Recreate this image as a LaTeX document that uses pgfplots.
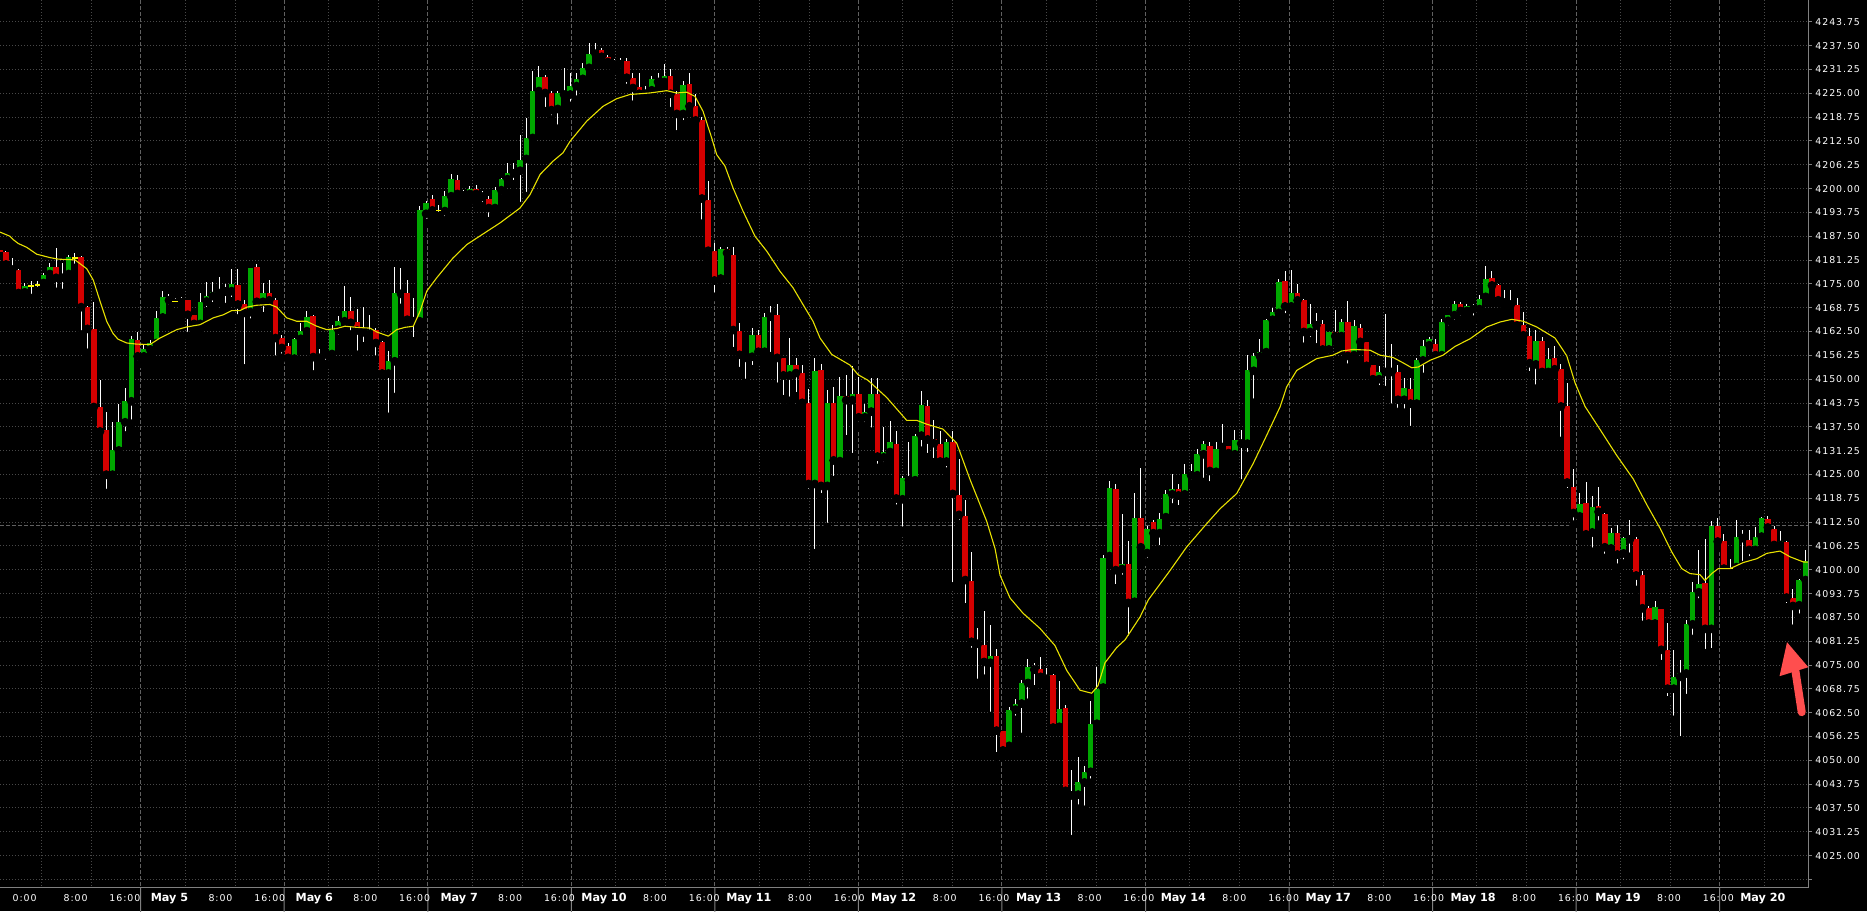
\documentclass[border=0pt]{standalone}
\usepackage{pgfplots}
\pgfplotsset{compat=1.18}
\usepackage{pgfplotstable}
\usepackage{fontspec}
\setmainfont{DejaVu Sans}
\newfontfamily\lblfont{DejaVu Sans}[LetterSpace=10]
\definecolor{cgreen}{RGB}{0,168,0}
\definecolor{cred}{RGB}{212,0,0}
\definecolor{cma}{RGB}{232,226,0}
\definecolor{cdoji}{RGB}{250,245,0}
\definecolor{gminor}{RGB}{72,72,72}
\definecolor{gmajor}{RGB}{96,96,96}
\definecolor{axgray}{RGB}{128,128,128}
\definecolor{arrowred}{RGB}{255,78,78}

\pgfplotstableread{
i O H L C
4 4172.8 4175.25 4170.9 4174.55
7 4175.25 4177.9 4174.4 4177.3
8 4177.6 4180.5 4175.7 4179.4
10 4176.6 4180.5 4172.6 4177.4
11 4177.6 4182.7 4175.5 4182.0
18 4124.95 4138.7 4123.0 4131.3
19 4131.3 4143.6 4129.3 4138.7
20 4138.7 4147.7 4135.2 4144.2
21 4144.2 4161.3 4138.3 4160.6
23 4156.0 4159.0 4154.5 4158.0
24 4157.8 4160.4 4156.0 4159.5
25 4159.5 4167.8 4158.2 4166.1
26 4166.2 4173.1 4164.8 4171.5
29 4170.2 4171.5 4169.2 4170.7
32 4164.5 4172.6 4163.0 4170.3
33 4170.4 4175.4 4167.8 4171.8
34 4171.8 4175.5 4169.1 4172.9
35 4172.6 4176.7 4171.5 4173.2
36 4173.0 4175.0 4168.9 4173.4
37 4173.1 4178.8 4170.4 4175.0
40 4167.6 4179.2 4164.8 4179.2
42 4170.3 4175.25 4166.5 4172.6
47 4155.4 4160.8 4155.1 4160.6
48 4160.6 4164.8 4159.1 4162.6
49 4162.6 4167.8 4161.3 4166.2
51 4155.6 4157.8 4153.8 4156.6
52 4156.5 4157.3 4154.0 4156.8
53 4156.6 4164.1 4155.4 4163.0
54 4163.0 4166.5 4160.6 4165.2
55 4165.2 4174.4 4163.0 4167.8
59 4161.9 4166.8 4159.9 4162.8
62 4151.5 4157.3 4140.1 4154.7
63 4154.7 4179.4 4145.3 4172.6
64 4172.4 4179.2 4168.7 4172.8
67 4165.2 4195.4 4163.4 4194.3
68 4193.4 4196.7 4191.0 4196.1
71 4194.1 4199.3 4191.7 4198.0
72 4198.0 4203.9 4197.1 4202.5
75 4198.6 4200.6 4196.7 4199.9
79 4194.9 4200.4 4193.8 4199.6
80 4199.6 4202.8 4197.4 4202.5
81 4202.5 4206.7 4201.5 4204.0
82 4204.0 4206.7 4201.1 4204.7
83 4204.7 4214.0 4195.4 4207.4
84 4207.8 4218.6 4198.0 4213.3
85 4213.3 4230.8 4212.3 4225.6
86 4225.6 4232.1 4224.0 4229.2
89 4220.9 4225.6 4215.7 4225.1
91 4224.7 4230.4 4221.7 4226.9
92 4226.9 4230.4 4223.3 4228.8
93 4228.8 4233.0 4228.0 4231.7
94 4231.7 4238.1 4230.8 4235.4
95 4235.4 4238.1 4235.0 4236.3
99 4232.6 4234.3 4230.4 4233.4
103 4224.9 4226.9 4223.2 4225.6
104 4225.8 4229.5 4224.9 4228.8
106 4228.0 4232.8 4226.9 4229.5
109 4219.6 4228.3 4216.9 4227.1
115 4176.4 4184.8 4176.1 4184.2
120 4155.9 4163.4 4152.6 4161.5
122 4157.2 4167.4 4156.5 4166.3
123 4166.4 4169.3 4156.0 4166.8
126 4151.0 4160.9 4144.3 4153.8
130 4122.5 4155.6 4104.3 4152.2
132 4122.0 4147.2 4111.2 4143.7
134 4128.5 4150.5 4126.9 4145.7
136 4144.5 4153.5 4129.5 4146.2
138 4140.0 4143.5 4137.7 4141.5
139 4141.5 4150.2 4136.2 4146.2
141 4129.5 4137.5 4127.2 4130.9
142 4130.9 4138.9 4130.2 4133.4
144 4118.5 4124.7 4110.2 4124.2
146 4123.5 4135.7 4122.0 4135.2
147 4135.2 4146.9 4131.2 4143.2
151 4128.4 4134.2 4125.7 4133.5
158 4075.6 4085.6 4061.6 4077.3
161 4053.8 4064.1 4053.1 4063.1
162 4063.3 4066.1 4060.6 4064.8
163 4064.9 4071.1 4056.1 4070.3
164 4070.3 4076.6 4065.1 4074.4
167 4071.4 4074.1 4069.6 4072.4
169 4058.8 4070.8 4058.4 4063.4
172 4041.0 4051.0 4037.3 4044.3
173 4044.2 4048.6 4037.0 4046.9
174 4047.0 4065.6 4044.1 4059.6
175 4059.6 4074.6 4058.4 4068.8
176 4069.1 4103.8 4068.1 4103.1
177 4103.6 4123.2 4103.1 4121.5
179 4100.2 4114.7 4097.6 4101.6
181 4091.6 4120.2 4090.6 4113.7
183 4104.4 4111.6 4102.0 4110.8
185 4109.6 4114.9 4105.3 4113.4
186 4113.8 4120.8 4111.65 4119.95
187 4119.8 4125.2 4116.3 4121.3
189 4119.8 4127.8 4119.1 4125.2
191 4124.8 4131.6 4123.9 4130.3
192 4130.3 4133.8 4123.0 4132.9
194 4125.7 4133.5 4123.9 4131.8
195 4132.2 4138.2 4130.5 4132.8
197 4130.3 4136.8 4129.1 4134.1
199 4133.1 4156.3 4129.8 4152.3
200 4152.2 4156.9 4143.8 4156.0
201 4156.0 4160.6 4156.0 4157.05
202 4157.1 4165.9 4156.0 4165.5
203 4165.6 4168.8 4163.7 4167.6
204 4167.4 4176.4 4165.9 4175.5
206 4169.1 4178.7 4168.1 4172.6
209 4162.4 4169.8 4159.9 4164.4
212 4157.8 4162.4 4155.6 4162.4
214 4161.3 4165.9 4159.5 4164.9
216 4156.3 4165.5 4155.6 4163.9
220 4150.0 4153.4 4147.3 4151.8
221 4151.9 4167.2 4147.1 4152.3
224 4144.6 4150.3 4141.2 4147.8
226 4143.6 4155.6 4141.4 4154.95
227 4154.95 4160.4 4150.6 4158.6
228 4158.9 4161.0 4158.8 4160.6
230 4156.3 4165.9 4155.6 4165.0
231 4165.3 4166.8 4163.0 4166.8
232 4166.8 4170.5 4164.4 4169.8
234 4167.9 4169.8 4167.6 4169.1
236 4168.4 4172.0 4166.5 4171.1
237 4171.6 4179.6 4170.7 4176.4
245 4153.9 4162.8 4147.5 4160.1
247 4151.9 4158.1 4150.2 4155.3
252 4114.0 4120.2 4112.2 4117.3
254 4109.8 4119.3 4104.7 4116.4
257 4105.6 4110.9 4103.6 4109.7
259 4104.3 4108.7 4101.6 4108.4
264 4085.9 4091.85 4083.9 4090.1
267 4068.8 4079.0 4060.6 4071.9
268 4071.9 4076.3 4055.2 4073.0
269 4072.8 4086.7 4066.3 4085.8
270 4085.7 4096.7 4081.8 4094.2
271 4094.1 4105.2 4091.4 4096.3
273 4084.5 4112.9 4078.3 4111.5
277 4100.7 4113.1 4100.2 4108.7
280 4105.2 4111.1 4103.4 4108.7
281 4108.7 4113.8 4107.5 4113.6
284 4106.5 4110.2 4105.8 4107.6
287 4090.7 4097.6 4087.4 4097.2
288 4097.3 4105.2 4096.3 4102.3
}\upc

\pgfplotstableread{
i O H L C
0 4184.0 4184.3 4182.8 4183.3
1 4183.3 4183.6 4178.3 4180.1
2 4179.6 4181.8 4176.6 4178.75
3 4178.6 4178.8 4172.0 4172.6
9 4179.4 4184.4 4172.9 4176.6
13 4182.0 4182.4 4161.7 4168.9
14 4168.9 4169.1 4156.9 4163.2
15 4163.2 4170.3 4141.1 4142.7
16 4142.7 4149.9 4135.0 4136.3
17 4136.6 4141.4 4120.1 4124.95
22 4160.4 4162.3 4153.8 4156.0
27 4171.5 4172.4 4168.5 4170.7
30 4170.7 4170.9 4161.3 4166.9
31 4166.8 4166.9 4162.6 4164.5
38 4174.6 4178.8 4165.9 4169.6
39 4169.6 4170.7 4152.8 4167.4
41 4179.4 4180.1 4169.1 4170.3
43 4172.6 4175.9 4169.1 4170.7
44 4170.7 4171.3 4155.1 4160.8
45 4160.8 4161.7 4155.6 4158.2
46 4158.6 4159.5 4155.1 4155.6
50 4166.5 4166.9 4151.2 4155.8
56 4167.8 4171.5 4161.7 4164.8
57 4164.9 4168.5 4156.4 4162.8
58 4162.8 4168.9 4158.6 4162.3
60 4163.0 4163.4 4155.1 4159.5
61 4159.7 4159.9 4151.2 4151.5
65 4172.6 4176.1 4165.2 4165.6
66 4165.6 4171.3 4159.9 4165.2
69 4197.4 4198.3 4193.2 4194.3
73 4202.2 4203.7 4196.5 4198.6
74 4198.6 4199.6 4196.9 4198.2
76 4199.9 4200.9 4197.6 4198.6
77 4198.6 4199.3 4195.4 4197.9
78 4197.4 4198.0 4191.4 4194.9
87 4229.2 4229.9 4220.3 4225.1
88 4225.1 4225.6 4218.1 4220.6
90 4225.3 4231.7 4223.4 4224.7
96 4236.3 4236.9 4233.6 4234.6
97 4234.6 4235.0 4232.3 4233.2
98 4233.2 4233.9 4231.2 4232.6
100 4233.6 4234.3 4226.4 4229.1
101 4229.1 4230.4 4222.0 4226.4
102 4226.6 4230.4 4223.6 4224.9
105 4228.4 4230.4 4227.1 4228.0
107 4229.5 4231.3 4220.3 4224.9
108 4224.9 4225.6 4214.2 4219.6
110 4227.5 4230.4 4220.7 4221.6
111 4221.6 4224.7 4217.2 4217.9
112 4217.9 4218.9 4190.8 4197.4
113 4196.9 4201.9 4181.5 4183.7
114 4183.7 4185.7 4171.6 4175.9
116 4184.2 4184.8 4181.8 4183.1
117 4182.7 4184.8 4157.3 4162.9
118 4162.6 4164.8 4152.1 4156.4
119 4155.9 4156.4 4149.0 4155.6
121 4161.7 4163.0 4154.9 4157.2
124 4166.8 4169.6 4148.0 4155.6
125 4155.6 4155.6 4144.7 4151.0
127 4153.8 4155.6 4145.5 4151.6
128 4151.6 4153.8 4143.3 4143.8
129 4143.8 4147.5 4120.0 4122.5
131 4152.5 4154.0 4119.0 4122.0
133 4143.7 4147.9 4123.5 4128.7
135 4145.7 4151.1 4134.2 4144.5
137 4146.2 4150.5 4137.7 4140.0
140 4146.2 4150.2 4126.7 4129.7
143 4133.0 4136.5 4116.0 4118.7
145 4124.2 4133.5 4122.7 4123.5
148 4143.0 4144.5 4129.5 4134.2
149 4134.4 4139.2 4128.2 4133.2
150 4133.0 4136.5 4126.7 4128.4
152 4133.4 4136.4 4095.6 4119.9
153 4119.7 4129.0 4112.0 4114.4
154 4114.2 4118.2 4090.1 4097.3
155 4097.1 4104.6 4078.4 4081.1
156 4081.1 4084.8 4070.3 4080.6
157 4080.3 4089.1 4071.4 4075.8
159 4077.3 4079.1 4051.0 4057.8
160 4057.6 4057.6 4051.0 4052.6
165 4074.3 4075.6 4068.6 4073.8
166 4073.9 4077.1 4070.1 4071.9
168 4072.4 4072.6 4057.6 4058.6
170 4063.6 4064.4 4040.7 4042.0
171 4041.8 4047.5 4029.3 4040.8
178 4121.2 4122.5 4095.1 4099.9
180 4101.6 4107.6 4081.6 4091.3
182 4113.7 4126.7 4105.2 4105.9
184 4112.4 4112.95 4107.7 4109.6
188 4121.3 4122.6 4115.8 4119.5
190 4125.5 4127.8 4122.6 4124.8
193 4132.6 4133.5 4122.1 4125.9
196 4132.6 4132.6 4129.1 4130.6
198 4133.95 4136.6 4122.6 4133.1
205 4175.7 4178.3 4166.2 4169.1
207 4172.6 4175.1 4168.9 4170.7
208 4170.7 4171.1 4158.5 4162.4
210 4164.6 4167.4 4158.3 4164.1
211 4164.4 4165.5 4156.3 4157.8
213 4162.4 4168.1 4159.8 4161.3
215 4164.9 4170.5 4153.0 4156.1
217 4163.5 4164.4 4159.5 4159.8
218 4159.8 4159.8 4153.2 4153.5
219 4153.7 4153.7 4148.1 4150.0
222 4152.3 4159.2 4142.5 4151.9
223 4151.8 4153.8 4141.4 4144.6
225 4147.5 4150.2 4136.6 4143.6
229 4159.2 4160.6 4155.4 4156.3
233 4169.8 4170.3 4165.6 4167.9
235 4169.1 4169.6 4165.6 4168.4
238 4176.6 4178.3 4173.5 4174.6
239 4174.6 4175.1 4170.0 4170.7
240 4170.96 4173.4 4168.7 4170.1
241 4170.1 4173.4 4167.9 4169.6
242 4169.45 4171.2 4162.8 4164.1
243 4164.1 4167.7 4160.1 4161.5
244 4161.3 4163.4 4151.0 4154.2
246 4160.1 4161.0 4151.3 4151.9
248 4155.6 4158.8 4151.9 4152.6
249 4152.6 4154.1 4133.8 4142.85
250 4142.85 4149.1 4120.3 4122.9
251 4121.8 4126.4 4111.8 4114.9
253 4117.6 4122.9 4109.3 4109.3
255 4116.7 4121.7 4111.8 4115.2
256 4114.5 4114.9 4103.1 4105.9
258 4109.7 4111.8 4100.5 4104.0
260 4108.4 4113.1 4103.4 4108.0
261 4108.1 4108.7 4094.7 4098.5
262 4098.5 4099.8 4085.5 4089.9
263 4089.9 4090.5 4083.9 4085.9
265 4089.8 4089.8 4075.2 4079.0
266 4079.0 4086.1 4065.7 4068.8
272 4096.5 4108.1 4078.1 4084.5
274 4111.5 4113.6 4105.6 4107.4
275 4107.6 4109.3 4099.2 4100.3
278 4108.7 4110.5 4101.2 4108.3
279 4107.9 4110.5 4102.5 4105.2
282 4113.4 4114.2 4110.0 4111.1
283 4110.8 4111.4 4105.2 4106.5
285 4107.4 4107.6 4090.1 4092.7
286 4092.7 4094.9 4084.5 4090.5
}\downc

\pgfplotstableread{
i O H L C
5 4174.5 4175.7 4171.3 4174.5
6 4174.7 4175.7 4173.1 4174.7
12 4181.8 4183.1 4179.2 4181.8
28 4170.4 4171.3 4170.0 4170.4
70 4194.2 4195.8 4192.8 4194.2
276 4100.3 4102.9 4099.4 4100.3
}\dojic

\pgfplotsset{
  wick/.style={only marks, mark=none, forget plot,
    error bars/.cd, y dir=plus, y explicit, error mark=none,
    error bar style={draw=white, line width=0.5pt}},
  body/.style={only marks, mark=none, forget plot,
    error bars/.cd, y dir=plus, y explicit, error mark=none,
    error bar style={draw=#1, line width=2.8pt}},
}
\tikzset{
  gridminor/.style={gminor, line width=0.5pt, dash pattern=on 0.6pt off 0.9pt},
  gridmajor/.style={gmajor, line width=0.5pt, dash pattern=on 2pt off 1pt},
  ylab/.style={anchor=west, inner sep=0pt, text=white, font={\lblfont\fontsize{4.7}{5}\selectfont}},
  xlab/.style={anchor=base, inner sep=0pt, yshift=-6.9pt, text=white, font={\lblfont\fontsize{4.7}{5}\selectfont}},
  xdat/.style={anchor=base, inner sep=0pt, yshift=-7.1pt, text=white, font={\bfseries\fontsize{5.6}{6}\selectfont}},
}
\newcommand{\xl}[2]{\node[xlab] at (axis cs:#1,4016.71) {#2};}
\newcommand{\xd}[2]{\node[xdat] at (axis cs:#1,4016.71) {#2};}

\begin{document}
\begin{tikzpicture}
\fill[black] (0,-12pt) rectangle (933.5pt,443.5pt);
\begin{axis}[
  scale only axis, width=904pt, height=443.5pt,
  xmin=0, xmax=1808, ymin=4016.71, ymax=4249.44,
  hide axis, clip mode=individual,
]
% horizontal grid
\pgfplotsinvokeforeach{4018.75,4025,4031.25,4037.5,4043.75,4050,4056.25,4062.5,4068.75,4075,4081.25,4087.5,4093.75,4100,4106.25,4112.5,4118.75,4125,4131.25,4137.5,4143.75,4150,4156.25,4162.5,4168.75,4175,4181.25,4187.5,4193.75,4200,4206.25,4212.5,4218.75,4225,4231.25,4237.5,4243.75}{
  \draw[gridminor] (axis cs:0,#1) -- (axis cs:1808,#1);
}
% vertical minor grid
\pgfplotsinvokeforeach{41.5,91.5,185.0,235.0,328.6,378.6,472.1,522.1,615.7,665.7,759.2,809.2,902.7,952.7,1046.3,1096.3,1189.8,1239.8,1333.4,1383.4,1476.9,1526.9,1620.4,1670.4,1764.0}{
  \draw[gridminor] (axis cs:#1,4249.44) -- (axis cs:#1,4016.71);
}
% vertical major grid
\pgfplotsinvokeforeach{140.7,284.2,427.8,571.3,714.9,858.4,1001.9,1145.5,1289.0,1432.6,1576.1,1719.6}{
  \draw[gridmajor] (axis cs:#1,4249.44) -- (axis cs:#1,4016.71);
  \draw[axgray, line width=0.5pt] (axis cs:#1,4016.71) -- ++(0,-1.5pt);
}
% last price line
\draw[gmajor, line width=0.5pt, dash pattern=on 2pt off 1pt] (axis cs:0,4111.6) -- (axis cs:1808,4111.6);

% wicks
\addplot[wick] table[x expr={-0.3+6.27*\thisrow{i}}, y=L, y error expr={\thisrow{H}-\thisrow{L}}] {\upc};
\addplot[wick] table[x expr={-0.3+6.27*\thisrow{i}}, y=L, y error expr={\thisrow{H}-\thisrow{L}}] {\downc};
\addplot[wick] table[x expr={-0.3+6.27*\thisrow{i}}, y=L, y error expr={\thisrow{H}-\thisrow{L}}] {\dojic};
% bodies
\addplot[body=cgreen] table[x expr={-0.3+6.27*\thisrow{i}}, y=O, y error expr={\thisrow{C}-\thisrow{O}}] {\upc};
\addplot[body=cred] table[x expr={-0.3+6.27*\thisrow{i}}, y=C, y error expr={\thisrow{O}-\thisrow{C}}] {\downc};
\addplot[only marks, mark=-, mark size=1.4pt, mark options={draw=cdoji, line width=0.7pt}, forget plot]
  table[x expr={-0.3+6.27*\thisrow{i}}, y=O] {\dojic};

% moving average
\addplot[cma, line width=0.55pt, line join=round, forget plot] coordinates {
(0,4188.6) (10,4187.5) (13.3,4186.6) (18.3,4185.6) (26.7,4184.6) (36.7,4182.8) (50,4181.9) (58.3,4181.5) (75,4181.3)
(86.7,4179.0) (93.3,4176.0) (100,4170.5) (106.7,4165.2) (113,4162.0) (118,4160.5) (126.7,4159.5) (136.7,4159.2) (150,4159.1)
(160,4160.8) (176.7,4163.0) (186.7,4163.7) (200,4164.3) (213.3,4166.1) (223.3,4166.9) (231.7,4168.0) (240,4168.0)
(246.7,4168.9) (256.7,4169.4) (270,4169.6) (276.7,4168.9) (286.7,4166.1) (296.7,4165.2) (306.7,4165.2) (316.7,4163.9)
(326.7,4163.0) (336.7,4163.3) (345,4163.9) (356.7,4163.6) (370,4163.4) (376.7,4162.4) (388.3,4161.3) (396.7,4163.0)
(405,4163.6) (413.3,4163.9) (420,4167.8) (426.7,4173.1) (436.7,4176.6) (453,4181.8) (466.7,4185.3) (483,4188.1)
(500,4191.0) (520,4194.9) (530,4198.4) (540,4203.7) (553,4207.2) (563,4209.4) (570,4212.4) (586.7,4217.7) (603,4221.6)
(616.7,4223.6) (630,4224.7) (650,4225.1) (666.7,4225.7) (676.7,4225.1) (686.7,4225.3) (695,4224.2) (703,4220.3)
(711.7,4213.3) (716.7,4208.9) (725,4205.9) (733,4200.2) (743,4194.1) (755,4187.5) (766.7,4183.6) (780,4178.3)
(793,4174.0) (805,4168.7) (813,4165.2) (820,4160.8) (831.7,4156.5) (850,4153.7) (858,4151.2) (868,4149.7)
(886.7,4145.2) (906.7,4139.2) (916.7,4139.2) (926.7,4138.2) (943,4136.9) (956.7,4133.2) (970,4123.7) (986.7,4112.7)
(995,4105.6) (1000,4098.6) (1010,4092.6) (1023,4088.6) (1040,4084.6) (1055,4080.1) (1066.7,4073.6) (1080,4068.4)
(1091.7,4067.6) (1098,4069.6) (1105,4075.6) (1116.7,4079.6) (1125,4081.6) (1140,4087.6) (1148.3,4092.1) (1170,4099.8)
(1186.7,4106.0) (1206.7,4112.1) (1220,4116.0) (1236.7,4120.0) (1253,4127.8) (1266.7,4135.3) (1280,4142.7) (1286.7,4148.0)
(1296.7,4152.3) (1316.7,4155.4) (1333,4156.3) (1341.7,4157.4) (1353,4157.8) (1370,4157.6) (1380,4156.3) (1393,4155.7)
(1403,4154.3) (1411.7,4153.0) (1418.3,4153.2) (1430,4154.95) (1443,4156.3) (1455,4158.6) (1470,4160.6) (1486.7,4163.7)
(1500,4165.0) (1511.7,4165.7) (1523.3,4165.2) (1536.7,4163.7) (1555,4160.8) (1566.7,4156.15) (1575,4149.05) (1585,4142.85)
(1598.3,4137.5) (1616.7,4130.0) (1633.3,4123.8) (1646.7,4117.1) (1660,4110.9) (1671.7,4104.7) (1681.7,4100.3) (1690,4099.0)
(1700,4098.7) (1705,4097.2) (1711.7,4099.0) (1718.3,4100.3) (1730,4100.3) (1743.3,4101.9) (1756.7,4102.9) (1766.7,4104.3)
(1780,4104.9) (1790,4103.4) (1803.3,4102.05) (1808,4102.0)
};

% axis lines
\draw[axgray, line width=0.5pt] (axis cs:1808,4249.44) -- (axis cs:1808,4016.71) -- (axis cs:0,4016.71);
% y ticks and labels
\pgfplotsinvokeforeach{4025.00,4031.25,4037.50,4043.75,4050.00,4056.25,4062.50,4068.75,4075.00,4081.25,4087.50,4093.75,4100.00,4106.25,4112.50,4118.75,4125.00,4131.25,4137.50,4143.75,4150.00,4156.25,4162.50,4168.75,4175.00,4181.25,4187.50,4193.75,4200.00,4206.25,4212.50,4218.75,4225.00,4231.25,4237.50,4243.75}{
  \draw[axgray, line width=0.5pt] (axis cs:1808,#1) -- (axis cs:1812,#1);
  \node[ylab] at (axis cs:1815,#1) {#1};
}
\draw[axgray, line width=0.5pt] (axis cs:1808,4018.75) -- (axis cs:1812,4018.75);
% x labels
\xl{24.6}{0:00}\xl{75.6}{8:00}\xl{124.9}{16:00}
\xd{169.5}{May 5}\xl{220.5}{8:00}\xl{269.8}{16:00}
\xd{314.3}{May 6}\xl{365.3}{8:00}\xl{414.6}{16:00}
\xd{459.2}{May 7}\xl{510.2}{8:00}\xl{559.5}{16:00}
\xd{604.0}{May 10}\xl{655.0}{8:00}\xl{704.3}{16:00}
\xd{748.9}{May 11}\xl{799.9}{8:00}\xl{849.2}{16:00}
\xd{893.7}{May 12}\xl{944.7}{8:00}\xl{994.0}{16:00}
\xd{1038.6}{May 13}\xl{1089.6}{8:00}\xl{1138.9}{16:00}
\xd{1183.4}{May 14}\xl{1234.4}{8:00}\xl{1283.7}{16:00}
\xd{1328.3}{May 17}\xl{1379.3}{8:00}\xl{1428.6}{16:00}
\xd{1473.1}{May 18}\xl{1524.1}{8:00}\xl{1573.4}{16:00}
\xd{1618.0}{May 19}\xl{1669.0}{8:00}\xl{1718.3}{16:00}
\xd{1762.8}{May 20}
% arrow annotation
\draw[arrowred, line width=4pt, line cap=round] (axis cs:1801.7,4062.63) -- (axis cs:1794.8,4074.5);
\fill[arrowred] (axis cs:1787,4080.99) -- (axis cs:1779.5,4072.07) -- (axis cs:1808.3,4074.43) -- cycle;
\end{axis}
\pgfresetboundingbox
\path[use as bounding box] (0,-12pt) rectangle (933.5pt,443.5pt);
\end{tikzpicture}
\end{document}
